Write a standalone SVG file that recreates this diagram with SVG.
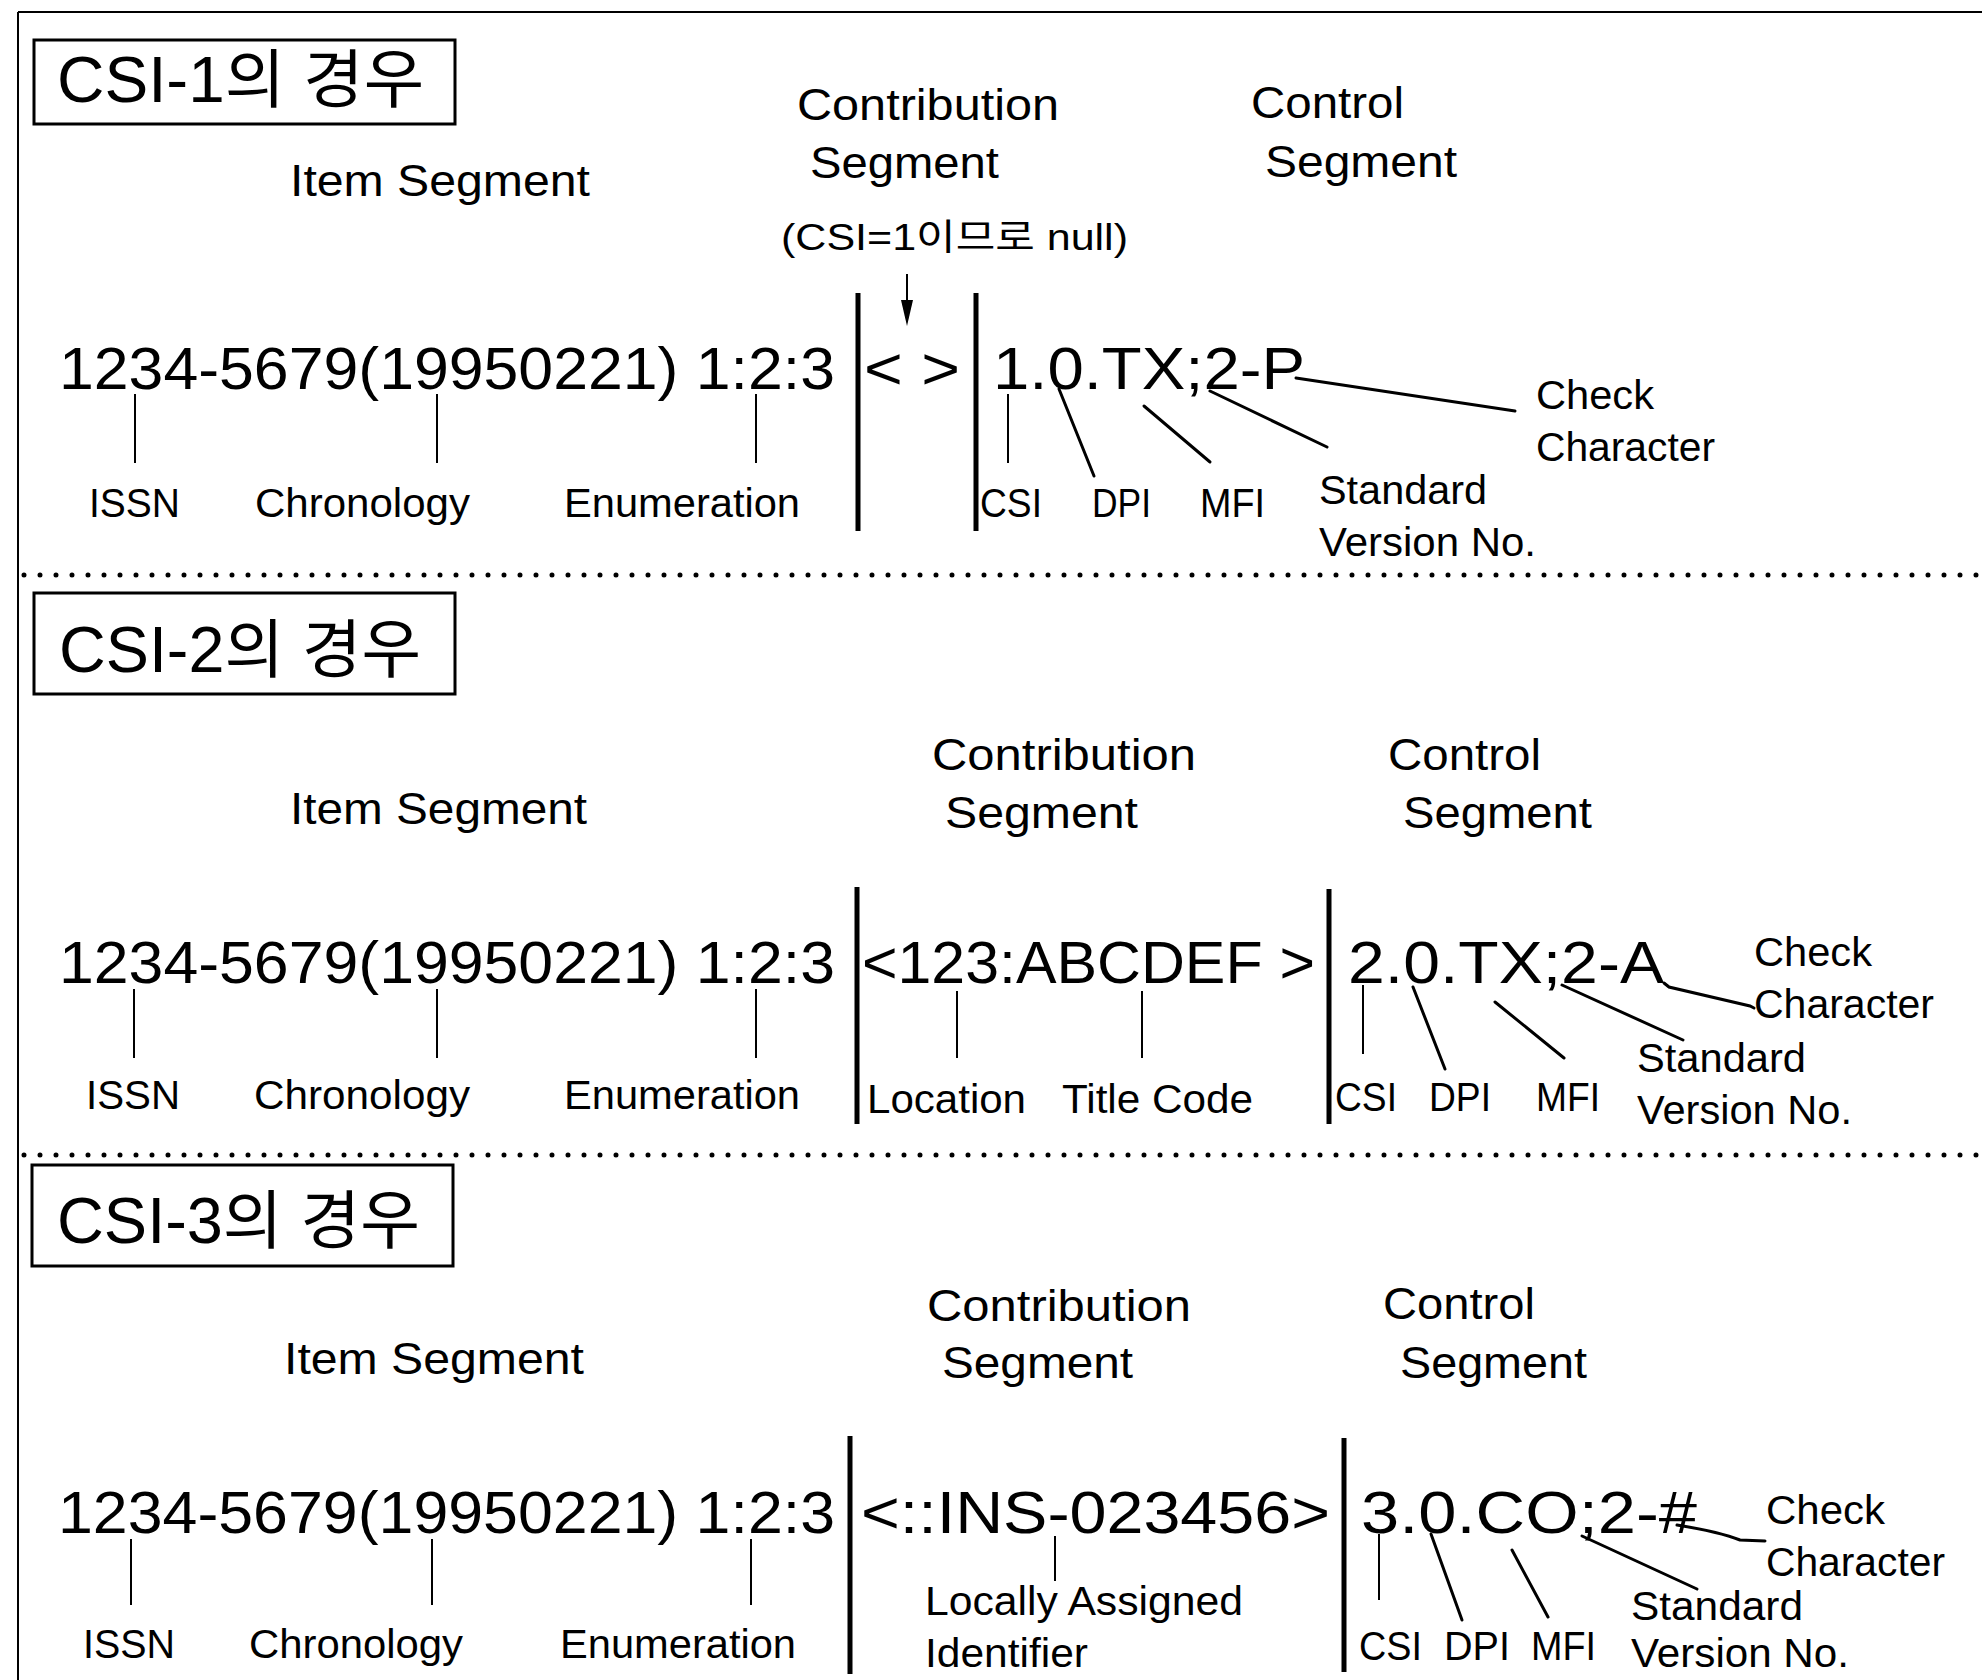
<svg xmlns="http://www.w3.org/2000/svg" width="1982" height="1680" viewBox="0 0 1982 1680">
<defs>
<style>
text{font-family:"Liberation Sans","Noto Sans CJK KR",sans-serif;fill:#000}
.t{font-size:64px}
.h{font-size:45px}
.m{font-size:60px}
.l{font-size:40px}
.n{font-size:36px}
.box{fill:none;stroke:#000;stroke-width:3}
.bar{stroke:#000;stroke-width:5;fill:none}
.ld{stroke:#000;stroke-width:2;fill:none}
.sl{stroke:#000;stroke-width:3;fill:none;stroke-linecap:round}
.dot{stroke:#000;stroke-width:5;stroke-linecap:round;stroke-dasharray:0 16;fill:none}
.frame{stroke:#000;stroke-width:2;fill:none}
</style>
</defs>
<rect width="1982" height="1680" fill="#fff"/>
<g id="frame">
<path class="frame" d="M18 12H1982M18 12V1680"/>
<path class="dot" d="M24 575H1982"/>
<path class="dot" d="M24 1155H1982"/>
</g>

<g id="section1">
<g id="title1"><rect class="box" x="34" y="40" width="421" height="84"/><text class="t" x="57" y="102" textLength="367" lengthAdjust="spacingAndGlyphs">CSI-1의 경우</text></g>
<g id="item1"><text class="h" x="290" y="196" textLength="300" lengthAdjust="spacingAndGlyphs">Item Segment</text></g>
<g id="contrib1"><text class="h" x="797" y="120" textLength="262" lengthAdjust="spacingAndGlyphs">Contribution</text><text class="h" x="810" y="178" textLength="189" lengthAdjust="spacingAndGlyphs">Segment</text><text class="n" x="781" y="250" textLength="347" lengthAdjust="spacingAndGlyphs">(CSI=1이므로 null)</text></g>
<g id="control1"><text class="h" x="1251" y="118" textLength="153" lengthAdjust="spacingAndGlyphs">Control</text><text class="h" x="1265" y="177" textLength="192" lengthAdjust="spacingAndGlyphs">Segment</text></g>
<g id="code1">
<text class="m" x="59" y="389" textLength="776" lengthAdjust="spacingAndGlyphs">1234-5679(19950221) 1:2:3</text>
<text class="m" x="864" y="389" textLength="96" lengthAdjust="spacingAndGlyphs">&lt; &gt;</text>
<text class="m" x="993" y="389" textLength="312" lengthAdjust="spacingAndGlyphs">1.0.TX;2-P</text>
<line class="bar" x1="858" y1="293" x2="858" y2="531"/>
<line class="bar" x1="976" y1="293" x2="976" y2="531"/>
</g>
<g id="labels1">
<text class="l" x="89" y="517" textLength="91" lengthAdjust="spacingAndGlyphs">ISSN</text>
<text class="l" x="255" y="517" textLength="215" lengthAdjust="spacingAndGlyphs">Chronology</text>
<text class="l" x="564" y="517" textLength="236" lengthAdjust="spacingAndGlyphs">Enumeration</text>
<text class="l" x="980" y="517" textLength="62" lengthAdjust="spacingAndGlyphs">CSI</text>
<text class="l" x="1092" y="517" textLength="59" lengthAdjust="spacingAndGlyphs">DPI</text>
<text class="l" x="1200" y="517" textLength="65" lengthAdjust="spacingAndGlyphs">MFI</text>
<text class="l" x="1319" y="504" textLength="168" lengthAdjust="spacingAndGlyphs">Standard</text>
<text class="l" x="1319" y="556" textLength="217" lengthAdjust="spacingAndGlyphs">Version No.</text>
<text class="l" x="1536" y="409" textLength="118" lengthAdjust="spacingAndGlyphs">Check</text>
<text class="l" x="1536" y="461" textLength="179" lengthAdjust="spacingAndGlyphs">Character</text>
</g>
</g>

<g id="section2">
<g id="title2"><rect class="box" x="34" y="593" width="421" height="101"/><text class="t" x="59" y="672" textLength="362" lengthAdjust="spacingAndGlyphs">CSI-2의 경우</text></g>
<g id="item2"><text class="h" x="290" y="824" textLength="297" lengthAdjust="spacingAndGlyphs">Item Segment</text></g>
<g id="contrib2"><text class="h" x="932" y="770" textLength="264" lengthAdjust="spacingAndGlyphs">Contribution</text><text class="h" x="945" y="828" textLength="193" lengthAdjust="spacingAndGlyphs">Segment</text></g>
<g id="control2"><text class="h" x="1388" y="770" textLength="153" lengthAdjust="spacingAndGlyphs">Control</text><text class="h" x="1403" y="828" textLength="189" lengthAdjust="spacingAndGlyphs">Segment</text></g>
<g id="code2">
<text class="m" x="59" y="983" textLength="776" lengthAdjust="spacingAndGlyphs">1234-5679(19950221) 1:2:3</text>
<text class="m" x="862" y="983" textLength="453" lengthAdjust="spacingAndGlyphs">&lt;123:ABCDEF &gt;</text>
<text class="m" x="1348" y="983" textLength="316" lengthAdjust="spacingAndGlyphs">2.0.TX;2-A</text>
<line class="bar" x1="857" y1="887" x2="857" y2="1124"/>
<line class="bar" x1="1329" y1="889" x2="1329" y2="1124"/>
</g>
<g id="labels2">
<text class="l" x="86" y="1109" textLength="94" lengthAdjust="spacingAndGlyphs">ISSN</text>
<text class="l" x="254" y="1109" textLength="216" lengthAdjust="spacingAndGlyphs">Chronology</text>
<text class="l" x="564" y="1109" textLength="236" lengthAdjust="spacingAndGlyphs">Enumeration</text>
<text class="l" x="867" y="1113" textLength="159" lengthAdjust="spacingAndGlyphs">Location</text>
<text class="l" x="1062" y="1113" textLength="191" lengthAdjust="spacingAndGlyphs">Title Code</text>
<text class="l" x="1335" y="1111" textLength="62" lengthAdjust="spacingAndGlyphs">CSI</text>
<text class="l" x="1429" y="1111" textLength="62" lengthAdjust="spacingAndGlyphs">DPI</text>
<text class="l" x="1536" y="1111" textLength="64" lengthAdjust="spacingAndGlyphs">MFI</text>
<text class="l" x="1637" y="1072" textLength="169" lengthAdjust="spacingAndGlyphs">Standard</text>
<text class="l" x="1637" y="1124" textLength="215" lengthAdjust="spacingAndGlyphs">Version No.</text>
<text class="l" x="1754" y="966" textLength="118" lengthAdjust="spacingAndGlyphs">Check</text>
<text class="l" x="1754" y="1018" textLength="180" lengthAdjust="spacingAndGlyphs">Character</text>
</g>
</g>

<g id="section3">
<g id="title3"><rect class="box" x="32" y="1165" width="421" height="101"/><text class="t" x="57" y="1243" textLength="363" lengthAdjust="spacingAndGlyphs">CSI-3의 경우</text></g>
<g id="item3"><text class="h" x="284" y="1374" textLength="300" lengthAdjust="spacingAndGlyphs">Item Segment</text></g>
<g id="contrib3"><text class="h" x="927" y="1321" textLength="264" lengthAdjust="spacingAndGlyphs">Contribution</text><text class="h" x="942" y="1378" textLength="191" lengthAdjust="spacingAndGlyphs">Segment</text></g>
<g id="control3"><text class="h" x="1383" y="1319" textLength="152" lengthAdjust="spacingAndGlyphs">Control</text><text class="h" x="1400" y="1378" textLength="187" lengthAdjust="spacingAndGlyphs">Segment</text></g>
<g id="code3">
<text class="m" x="58" y="1533" textLength="777" lengthAdjust="spacingAndGlyphs">1234-5679(19950221) 1:2:3</text>
<text class="m" x="861" y="1533" textLength="469" lengthAdjust="spacingAndGlyphs">&lt;::INS-023456&gt;</text>
<text class="m" x="1361" y="1533" textLength="336" lengthAdjust="spacingAndGlyphs">3.0.CO;2-#</text>
<line class="bar" x1="850" y1="1436" x2="850" y2="1674"/>
<line class="bar" x1="1344" y1="1438" x2="1344" y2="1672"/>
</g>
<g id="labels3">
<text class="l" x="83" y="1658" textLength="92" lengthAdjust="spacingAndGlyphs">ISSN</text>
<text class="l" x="249" y="1658" textLength="214" lengthAdjust="spacingAndGlyphs">Chronology</text>
<text class="l" x="560" y="1658" textLength="236" lengthAdjust="spacingAndGlyphs">Enumeration</text>
<text class="l" x="925" y="1615" textLength="318" lengthAdjust="spacingAndGlyphs">Locally Assigned</text>
<text class="l" x="925" y="1667" textLength="163" lengthAdjust="spacingAndGlyphs">Identifier</text>
<text class="l" x="1359" y="1660" textLength="63" lengthAdjust="spacingAndGlyphs">CSI</text>
<text class="l" x="1444" y="1660" textLength="66" lengthAdjust="spacingAndGlyphs">DPI</text>
<text class="l" x="1531" y="1660" textLength="65" lengthAdjust="spacingAndGlyphs">MFI</text>
<text class="l" x="1631" y="1620" textLength="172" lengthAdjust="spacingAndGlyphs">Standard</text>
<text class="l" x="1631" y="1667" textLength="218" lengthAdjust="spacingAndGlyphs">Version No.</text>
<text class="l" x="1766" y="1524" textLength="119" lengthAdjust="spacingAndGlyphs">Check</text>
<text class="l" x="1766" y="1576" textLength="179" lengthAdjust="spacingAndGlyphs">Character</text>
</g>
</g>

<g id="connectors">
<line class="ld" x1="907" y1="274" x2="907" y2="305"/>
<polygon points="901,300 913,300 907,326" fill="#000"/>
<line class="ld" x1="135" y1="394" x2="135" y2="463"/>
<line class="ld" x1="437" y1="394" x2="437" y2="463"/>
<line class="ld" x1="756" y1="394" x2="756" y2="463"/>
<line class="ld" x1="1008" y1="394" x2="1008" y2="463"/>
<line class="sl" x1="1059" y1="389" x2="1094" y2="476"/>
<line class="sl" x1="1144" y1="406" x2="1210" y2="462"/>
<line class="sl" x1="1210" y1="391" x2="1327" y2="447"/>
<line class="sl" x1="1296" y1="378" x2="1515" y2="411"/>

<line class="ld" x1="134" y1="989" x2="134" y2="1058"/>
<line class="ld" x1="437" y1="989" x2="437" y2="1058"/>
<line class="ld" x1="756" y1="989" x2="756" y2="1058"/>
<line class="ld" x1="957" y1="991" x2="957" y2="1058"/>
<line class="ld" x1="1142" y1="991" x2="1142" y2="1058"/>
<line class="ld" x1="1363" y1="985" x2="1363" y2="1054"/>
<line class="sl" x1="1413" y1="987" x2="1445" y2="1069"/>
<line class="sl" x1="1495" y1="1002" x2="1564" y2="1058"/>
<line class="sl" x1="1562" y1="985" x2="1683" y2="1040"/>
<polyline class="sl" points="1664,983 1669,987 1750,1006 1754,1008"/>

<line class="ld" x1="131" y1="1539" x2="131" y2="1605"/>
<line class="ld" x1="432" y1="1539" x2="432" y2="1605"/>
<line class="ld" x1="751" y1="1539" x2="751" y2="1605"/>
<line class="ld" x1="1055" y1="1536" x2="1055" y2="1581"/>
<line class="ld" x1="1379" y1="1534" x2="1379" y2="1600"/>
<line class="sl" x1="1431" y1="1534" x2="1462" y2="1620"/>
<line class="sl" x1="1512" y1="1550" x2="1548" y2="1617"/>
<line class="sl" x1="1582" y1="1536" x2="1697" y2="1589"/>
<path class="sl" d="M1677 1525Q1720 1532 1740 1540L1765 1541"/>
</g>
</svg>
